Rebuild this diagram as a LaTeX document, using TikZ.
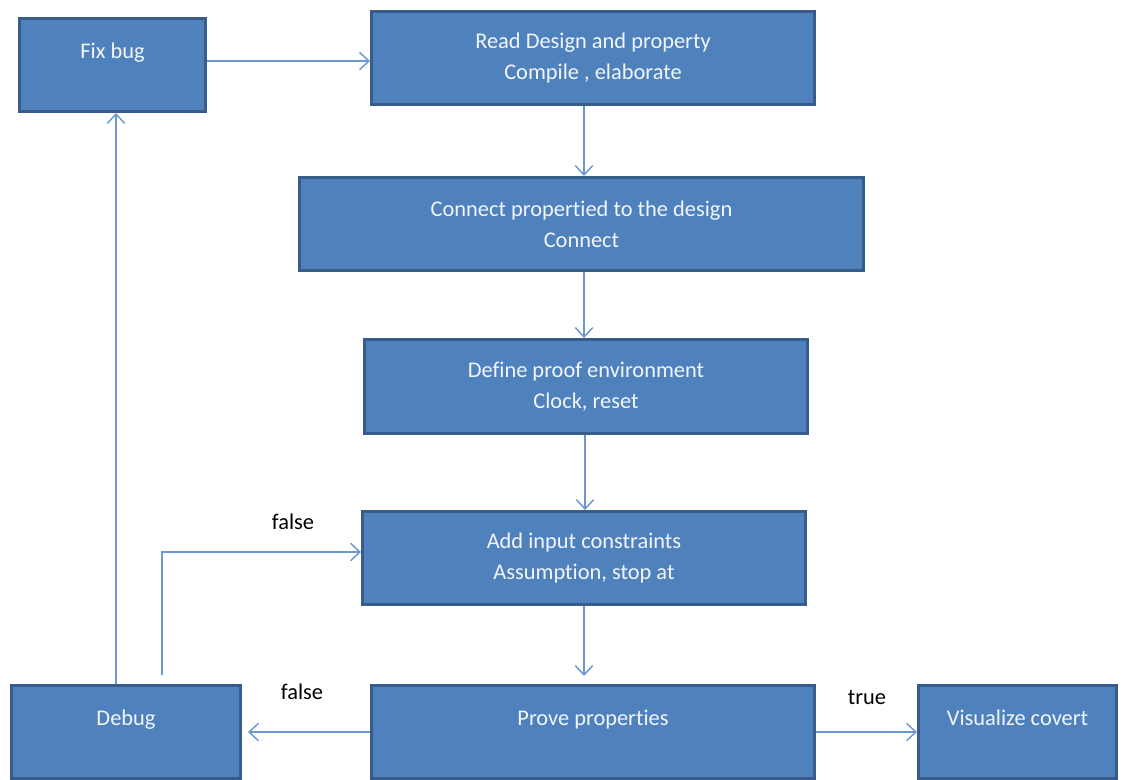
\documentclass[tikz,border=0pt]{standalone}
\usepackage{fontspec}
\setmainfont[RawFeature={-liga}]{Carlito}
\usetikzlibrary{arrows.meta}
\definecolor{boxfill}{HTML}{4F81BD}
\definecolor{boxline}{HTML}{385D8A}
\definecolor{connline}{HTML}{6D97D0}
\definecolor{boxtext}{HTML}{F2F5FA}
\tikzset{
  stepbox/.style={rectangle, fill=boxfill, draw=boxline, line width=2.25pt,
    text=boxtext, align=center, inner sep=0pt,
    font=\fontsize{16.8}{23.25}\selectfont},
  oneline/.style={text depth=21pt},
  conn/.style={draw=connline, line width=1.1pt,
    -{Straight Barb[length=7pt,width=13pt,line width=1.1pt]}},
  lbl/.style={text=black, font=\fontsize{16.8}{18}\selectfont, inner sep=0pt}
}
\begin{document}
\begin{tikzpicture}[x=0.75pt,y=-0.75pt]
  \useasboundingbox (0,0) rectangle (1121,779);
  \begin{scope}
  \clip (0,0) rectangle (1121,779);

  % process steps
  \node[stepbox, oneline, minimum width=139.5pt, minimum height=69.75pt] (fix) at (112.5,65) {Fix bug};
  \node[stepbox, minimum width=332.25pt, minimum height=69.75pt] (read) at (593,58) {Read Design and property\\Compile , elaborate};
  \node[stepbox, minimum width=423pt, minimum height=69.75pt] (connect) at (581.5,224) {Connect propertied to the design\\Connect};
  \node[stepbox, minimum width=332.25pt, minimum height=70.5pt] (define) at (586,386.5) {Define proof environment\\Clock, reset};
  \node[stepbox, minimum width=332.25pt, minimum height=69.75pt] (add) at (584,558) {Add input constraints\\Assumption, stop at};
  \node[stepbox, oneline, minimum width=171.75pt, minimum height=69.75pt] (debug) at (126,732) {Debug};
  \node[stepbox, oneline, minimum width=332.25pt, minimum height=69.75pt] (prove) at (593,732) {Prove properties};
  \node[stepbox, oneline, minimum width=148.5pt, minimum height=69.75pt] (vis) at (1017.5,732) {Visualize covert};

  % main flow
  \draw[conn] ([yshift=3pt]fix.east) -- ([yshift=3pt]fix.east -| read.west);
  \draw[conn] ([xshift=-6.75pt]read.south) -- ([xshift=-6.75pt]read.south |- connect.north);
  \draw[conn] ([xshift=1.9pt]connect.south) -- ([xshift=1.9pt]connect.south |- define.north);
  \draw[conn] ([xshift=-0.75pt]define.south) -- ([xshift=-0.75pt]define.south |- add.north);
  \draw[conn] (add.south) -- ([yshift=6pt]add.south |- prove.north);

  % outcomes of the proof
  \draw[conn] (prove.west) -- ([xshift=4.5pt]prove.west -| debug.east);
  \draw[conn] (prove.east) -- (prove.east -| vis.west);
  \node[lbl] (lfalse2) at (302,692) {false};
  \node[lbl] (ltrue) at (867,697) {true};

  % loops back from debugging
  \draw[conn] ([xshift=-7.5pt]debug.north) -- ([xshift=-7.5pt]debug.north |- fix.south);
  \coordinate (loopstart) at ([xshift=27pt,yshift=6.75pt]debug.north);
  \draw[conn] (loopstart) |- ([yshift=4.5pt]add.west);
  \node[lbl] (lfalse1) at (293,522) {false};
  \end{scope}
\end{tikzpicture}
\end{document}
